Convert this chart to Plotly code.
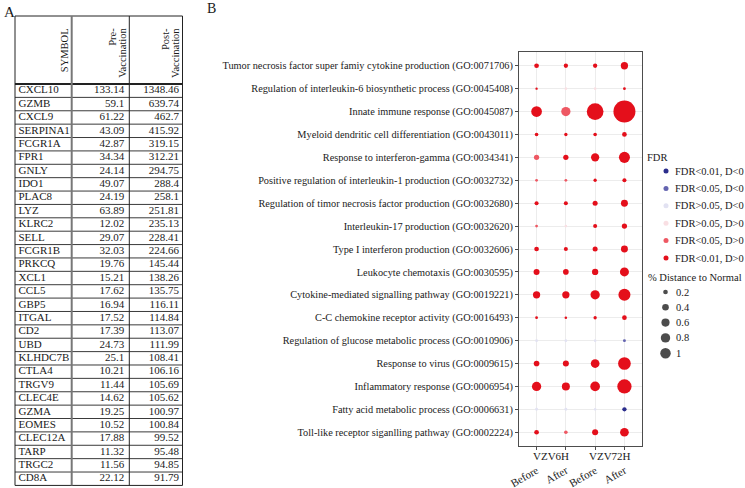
import math
import plotly.graph_objects as go

W, H = 745, 488
SERIF = "Liberation Serif"
INK = "#1a1a1a"

# ---------------- Panel A data ----------------
symbols = ["CXCL10", "GZMB", "CXCL9", "SERPINA1", "FCGR1A", "FPR1", "GNLY", "IDO1",
           "PLAC8", "LYZ", "KLRC2", "SELL", "FCGR1B", "PRKCQ", "XCL1", "CCL5", "GBP5",
           "ITGAL", "CD2", "UBD", "KLHDC7B", "CTLA4", "TRGV9", "CLEC4E", "GZMA", "EOMES",
           "CLEC12A", "TARP", "TRGC2", "CD8A"]
pre_vaccination = [133.14, 59.1, 61.22, 43.09, 42.87, 34.34, 24.14, 49.07, 24.19, 63.89,
                   12.02, 29.07, 32.03, 19.76, 15.21, 17.62, 16.94, 17.52, 17.39, 24.73,
                   25.1, 10.21, 11.44, 14.62, 19.25, 10.52, 17.88, 11.32, 11.56, 22.12]
post_vaccination = [1348.46, 639.74, 462.7, 415.92, 319.15, 312.21, 294.75, 288.4, 258.1,
                    251.81, 235.13, 228.41, 224.66, 145.44, 138.26, 135.75, 116.11, 114.84,
                    113.07, 111.99, 108.41, 106.16, 105.69, 105.62, 100.97, 100.84, 99.52,
                    95.48, 94.85, 91.79]
header_lines = [["SYMBOL"], ["Pre-", "Vaccination"], ["Post-", "Vaccination"]]

# ---------------- Panel B data ----------------
go_terms = [
    "Tumor necrosis factor super famiy cytokine production (GO:0071706)",
    "Regulation of interleukin-6 biosynthetic process (GO:0045408)",
    "Innate immune response (GO:0045087)",
    "Myeloid dendritic cell differentiation (GO:0043011)",
    "Response to interferon-gamma (GO:0034341)",
    "Positive regulation of interleukin-1 production (GO:0032732)",
    "Regulation of timor necrosis factor production (GO:0032680)",
    "Interleukin-17 production (GO:0032620)",
    "Type I interferon production (GO:0032606)",
    "Leukocyte chemotaxis (GO:0030595)",
    "Cytokine-mediated signalling pathway (GO:0019221)",
    "C-C chemokine receptor activity (GO:0016493)",
    "Regulation of glucose metabolic process (GO:0010906)",
    "Response to virus (GO:0009615)",
    "Inflammatory response (GO:0006954)",
    "Fatty acid metabolic process (GO:0006631)",
    "Toll-like receptor siganlling pathway (GO:0002224)",
]
timepoints = ["VZV6H", "VZV72H"]
conditions = ["Before", "After", "Before", "After"]
fdr_classes = ["FDR<0.01, D<0", "FDR<0.05, D<0", "FDR>0.05, D<0",
               "FDR>0.05, D>0", "FDR<0.05, D>0", "FDR<0.01, D>0"]
size_breaks = [0.2, 0.4, 0.6, 0.8, 1]

dist_6h_before = [0.20, 0.05, 1.04, 0.12, 0.25, 0.07, 0.15, 0.07, 0.20, 0.33, 0.48, 0.07, 0.07, 0.29, 0.78, 0.08, 0.20]
dist_6h_after = [0.17, 0.06, 0.78, 0.10, 0.25, 0.07, 0.15, 0.06, 0.15, 0.29, 0.48, 0.06, 0.07, 0.33, 0.58, 0.08, 0.12]
dist_72h_before = [0.17, 0.06, 2.53, 0.12, 0.62, 0.10, 0.23, 0.15, 0.23, 0.36, 0.78, 0.10, 0.06, 0.69, 0.85, 0.06, 0.33]
dist_72h_after = [0.48, 0.07, 4.39, 0.20, 1.10, 0.15, 0.44, 0.25, 0.44, 0.73, 1.31, 0.20, 0.08, 1.46, 1.85, 0.17, 0.69]

# index into fdr_classes
fdr_6h_before = [5, 5, 5, 5, 4, 4, 5, 4, 5, 5, 5, 5, 2, 5, 5, 2, 5]
fdr_6h_after = [5, 3, 4, 5, 5, 4, 5, 3, 5, 5, 5, 5, 2, 5, 5, 2, 4]
fdr_72h_before = [5, 3, 5, 5, 5, 5, 5, 5, 5, 5, 5, 5, 2, 5, 5, 2, 5]
fdr_72h_after = [5, 5, 5, 5, 5, 5, 5, 5, 5, 5, 5, 5, 1, 5, 5, 0, 5]

# ---------------- styles ----------------
fdr_colors = ["#2b2d8c", "#6464b0", "#e2e2f2", "#f9dfe3", "#ee5863", "#e40f1b"]
SIZE_K = 10.5


def size_px(v):
    return SIZE_K * math.sqrt(v)


def py(px):  # pixel (from top) -> paper y
    return 1 - px / H


def pxx(px):
    return px / W


fig = go.Figure()

# ---------------- Panel B dots ----------------
columns = [(dist_6h_before, fdr_6h_before), (dist_6h_after, fdr_6h_after),
           (dist_72h_before, fdr_72h_before), (dist_72h_after, fdr_72h_after)]
xs, ys, sz, cl = [], [], [], []
for j, (dvals, fvals) in enumerate(columns):
    for term, v, c in zip(go_terms, dvals, fvals):
        xs.append(j)
        ys.append(term)
        sz.append(size_px(v))
        cl.append(fdr_colors[c])
fig.add_trace(go.Scatter(x=xs, y=ys, mode="markers",
                         marker=dict(size=sz, color=cl, line=dict(width=0), opacity=1),
                         xaxis="x", yaxis="y", showlegend=False, hoverinfo="skip"))

# ---------------- Panel A table (text through axis x3/y3) ----------------
ROW0_PX, ROW_H = 90.7, 13.38
TAB_TOP_PX, TAB_BOT_PX = 16, 485.4
DOM_TOP_PX, DOM_BOT_PX = 10, 488
col_edges = [15, 71.7, 129.3, 182.5]
n = len(symbols)
rows = list(range(n))
y_top = (DOM_TOP_PX - ROW0_PX) / ROW_H
y_bot = (DOM_BOT_PX - ROW0_PX) / ROW_H
header_top = (TAB_TOP_PX - ROW0_PX) / ROW_H

tfont = dict(family=SERIF, size=11, color=INK)
fig.add_trace(go.Scatter(x=[col_edges[0] + 3.5] * n, y=rows, text=symbols, mode="text",
                         textposition="middle right", textfont=tfont, xaxis="x3", yaxis="y3",
                         showlegend=False, hoverinfo="skip", cliponaxis=False))
fig.add_trace(go.Scatter(x=[col_edges[2] - 5] * n, y=rows, text=[str(v) for v in pre_vaccination],
                         mode="text", textposition="middle left", textfont=tfont, xaxis="x3",
                         yaxis="y3", showlegend=False, hoverinfo="skip", cliponaxis=False))
fig.add_trace(go.Scatter(x=[col_edges[3] - 3.5] * n, y=rows, text=[str(v) for v in post_vaccination],
                         mode="text", textposition="middle left", textfont=tfont, xaxis="x3",
                         yaxis="y3", showlegend=False, hoverinfo="skip", cliponaxis=False))

shapes = []
for i in range(1, n):
    shapes.append(dict(type="line", xref="x3", yref="y3", x0=col_edges[0], x1=col_edges[-1],
                       y0=i - 0.5, y1=i - 0.5, line=dict(color="#3a3a3a", width=1)))
shapes.append(dict(type="line", xref="x3", yref="y3", x0=col_edges[0], x1=col_edges[-1],
                   y0=-0.5, y1=-0.5, line=dict(color="#222", width=2)))
for yy in (header_top, n - 0.5):
    shapes.append(dict(type="line", xref="x3", yref="y3", x0=col_edges[0], x1=col_edges[-1],
                       y0=yy, y1=yy, line=dict(color="#222", width=1)))
for k, xx in enumerate(col_edges):
    shapes.append(dict(type="line", xref="x3", yref="y3", x0=xx, x1=xx, y0=header_top,
                       y1=n - 0.5,
                       line=dict(color="#777" if k == 1 else "#222", width=2 if k == 1 else 1)))

annotations = []
# rotated header text
for k, lines in enumerate(header_lines):
    right = col_edges[k + 1] - 7.5
    for li, line in enumerate(lines):
        xc = right - (len(lines) - 1 - li) * 10
        annotations.append(dict(text=line, x=xc, xref="x3", y=py(26), yref="paper",
                                xanchor="center", yanchor="top", textangle=-90,
                                showarrow=False, font=dict(family=SERIF, size=10.5, color=INK)))

# panel letters
annotations.append(dict(text="A", x=pxx(9), y=py(12), xref="paper", yref="paper",
                        xanchor="center", yanchor="middle",
                        showarrow=False, font=dict(family=SERIF, size=15, color=INK)))
annotations.append(dict(text="B", x=pxx(211), y=py(9), xref="paper", yref="paper",
                        xanchor="center", yanchor="middle",
                        showarrow=False, font=dict(family=SERIF, size=14, color=INK)))

# timepoint group labels
for t, xc in zip(timepoints, [0.5, 2.5]):
    annotations.append(dict(text=t, x=xc, xref="x", y=py(456), yref="paper",
                            xanchor="center", yanchor="middle", showarrow=False,
                            font=dict(family=SERIF, size=11, color=INK)))

# ---------------- manual legend (axis x2/y2 in pixel units) ----------------
LEG_TITLE_X = 645
fdr_y = [171 + i * 17.4 for i in range(len(fdr_classes))]
size_y = [292 + i * 15.3 for i in range(len(size_breaks))]
fig.add_trace(go.Scatter(x=[666] * len(fdr_classes), y=fdr_y, mode="markers",
                         marker=dict(size=5, color=fdr_colors, line=dict(width=0)),
                         xaxis="x2", yaxis="y2", showlegend=False, hoverinfo="skip",
                         cliponaxis=False))
fig.add_trace(go.Scatter(x=[665.5] * len(size_breaks), y=size_y, mode="markers",
                         marker=dict(size=[size_px(b) for b in size_breaks], color="black",
                                     line=dict(width=0)),
                         xaxis="x2", yaxis="y2", showlegend=False, hoverinfo="skip",
                         cliponaxis=False))
lfont = dict(family=SERIF, size=10.5, color=INK)
annotations.append(dict(text="FDR", x=LEG_TITLE_X, y=157, xref="x2", yref="y2",
                        xanchor="left", yanchor="middle", showarrow=False, font=lfont))
for lab, yy in zip(fdr_classes, fdr_y):
    annotations.append(dict(text=lab, x=673, y=yy, xref="x2", yref="y2", xanchor="left",
                            yanchor="middle", showarrow=False, font=lfont))
annotations.append(dict(text="% Distance to Normal", x=LEG_TITLE_X + 1, y=277, xref="x2",
                        yref="y2", xanchor="left", yanchor="middle", showarrow=False, font=lfont))
for b, yy in zip(size_breaks, size_y):
    annotations.append(dict(text=str(b), x=674, y=yy, xref="x2", yref="y2", xanchor="left",
                            yanchor="middle", showarrow=False, font=lfont))

axis_common = dict(showline=True, mirror=True, linecolor="#4d4d4d", linewidth=1,
                   showgrid=True, gridcolor="#ececec", gridwidth=1, zeroline=False,
                   ticks="outside", ticklen=3, tickcolor="#4d4d4d", automargin=False)

fig.update_layout(
    width=W, height=H,
    margin=dict(l=0, r=0, t=0, b=0),
    paper_bgcolor="white", plot_bgcolor="rgba(0,0,0,0)",
    font=dict(family=SERIF, color=INK),
    showlegend=False,
    xaxis=dict(domain=[pxx(519), pxx(642)], range=[-0.6, 3.6], tickmode="array",
               tickvals=[0, 1, 2, 3], ticktext=conditions, tickangle=-30,
               tickfont=dict(family=SERIF, size=11, color=INK), ticklabelstandoff=10,
               anchor="y", **axis_common),
    yaxis=dict(domain=[py(446), py(52)], type="category", categoryorder="array",
               categoryarray=go_terms[::-1], range=[-0.6, len(go_terms) - 0.4],
               tickfont=dict(family=SERIF, size=10.3, color=INK), anchor="x", **axis_common),
    xaxis2=dict(domain=[0, 1], range=[0, W], visible=False, anchor="y2", fixedrange=True),
    yaxis2=dict(domain=[0, 1], range=[H, 0], visible=False, anchor="x2", fixedrange=True),
    xaxis3=dict(domain=[0, pxx(200)], range=[0, 200], visible=False, anchor="y3"),
    yaxis3=dict(domain=[py(DOM_BOT_PX), py(DOM_TOP_PX)], range=[y_bot, y_top],
                visible=False, anchor="x3"),
    shapes=shapes,
    annotations=annotations,
)

fig.write_html("out.html", config={"displayModeBar": False, "staticPlot": True},
               post_script="document.body.style.margin='0';document.body.style.padding='0';"
                           "document.body.style.overflow='hidden';")
